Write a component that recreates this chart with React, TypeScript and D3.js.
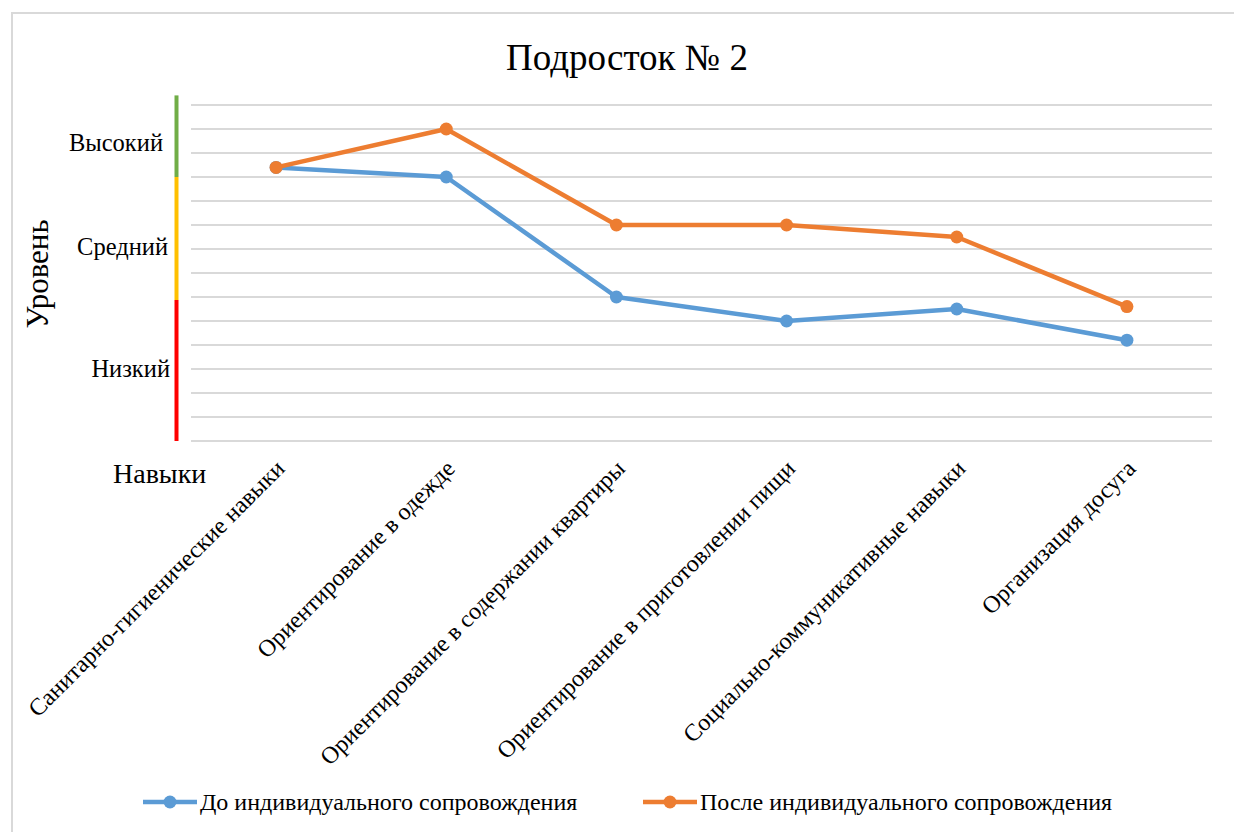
import React from "react";
import * as d3 from "d3";

const categories = [
  "Санитарно-гигиенические навыки",
  "Ориентирование в одежде",
  "Ориентирование в содержании квартиры",
  "Ориентирование в приготовлении пищи",
  "Социально-коммуникативные навыки",
  "Организация досуга",
];
const before = [11.4, 11.0, 6.0, 5.0, 5.5, 4.2];
const after = [11.4, 13.0, 9.0, 9.0, 8.5, 5.6];
const seriesNames = ["До индивидуального сопровождения", "После индивидуального сопровождения"];
const levelLabels = ["Высокий", "Средний", "Низкий"];
const levelLabelValues = [12.4, 8.1, 3.0];
const levelBands = [
  { from: 11.0, to: 14.4, color: "#70AD47" },
  { from: 5.87, to: 11.0, color: "#FFC000" },
  { from: 0, to: 5.87, color: "#FF0000" },
];
const gridTicks = d3.range(0, 15, 1);

const W = 1234;
const H = 832;
const left = 191;
const right = 1212;
const top = 105;
const bottom = 441;
const levelLabelEndX = [163, 168, 170];
const font = "Liberation Serif";
const colors = ["#5B9BD5", "#ED7D31"];
const txt = { fontFamily: font };

export default function App() {
  const x = d3.scaleBand<string>().domain(categories).range([left, right]);
  const y = d3.scaleLinear().domain([0, 14]).range([bottom, top]);
  const cx = (c: string) => (x(c) as number) + x.bandwidth() / 2;
  const line = d3
    .line<number>()
    .x((_, i) => cx(categories[i]))
    .y((d) => y(d));
  const series = [before, after];

  return (
    <svg width={W} height={H} style={{ position: "absolute", left: 0, top: 0, background: "#fff" }}>
      <rect x={12} y={13} width={1240} height={840} fill="#fff" stroke="#D9D9D9" strokeWidth={2} />
      <text x={627} y={70} textAnchor="middle" fontSize={37} fill="#000" style={txt}>
        Подросток  № 2
      </text>
      {gridTicks.map((t) => (
        <line key={t} x1={left} x2={right} y1={y(t)} y2={y(t)} stroke="#D9D9D9" strokeWidth={2} />
      ))}
      {levelBands.map((b, i) => (
        <line key={i} x1={176.5} x2={176.5} y1={y(b.from)} y2={y(b.to)} stroke={b.color} strokeWidth={4} />
      ))}
      {levelLabels.map((l, i) => (
        <text
          key={l}
          x={levelLabelEndX[i]}
          y={y(levelLabelValues[i])}
          dy="0.33em"
          textAnchor="end"
          fontSize={24.5}
          fill="#000"
          style={txt}
        >
          {l}
        </text>
      ))}
      <text transform={`translate(48,274) rotate(-90)`} textAnchor="middle" fontSize={31} fill="#000" style={txt}>
        Уровень
      </text>
      <text x={113} y={483} fontSize={28} fill="#000" style={txt}>
        Навыки
      </text>
      {categories.map((c) => (
        <text
          key={c}
          transform={`translate(${cx(c) + 10},${470}) rotate(-45)`}
          textAnchor="end"
          fontSize={24}
          fill="#000"
          style={txt}
        >
          {c}
        </text>
      ))}
      {series.map((s, si) => (
        <g key={si}>
          <path d={line(s) as string} fill="none" stroke={colors[si]} strokeWidth={4.5} strokeLinejoin="round" />
          {s.map((v, i) => (
            <circle key={i} cx={cx(categories[i])} cy={y(v)} r={6.5} fill={colors[si]} />
          ))}
        </g>
      ))}
      {seriesNames.map((n, i) => {
        const lx = i === 0 ? 143 : 643;
        return (
          <g key={n}>
            <line x1={lx} x2={lx + 54} y1={802} y2={802} stroke={colors[i]} strokeWidth={4.5} />
            <circle cx={lx + 27} cy={802} r={6.5} fill={colors[i]} />
            <text x={lx + 57} y={802} dy="0.33em" fontSize={24} fill="#000" style={txt}>
              {n}
            </text>
          </g>
        );
      })}
    </svg>
  );
}
